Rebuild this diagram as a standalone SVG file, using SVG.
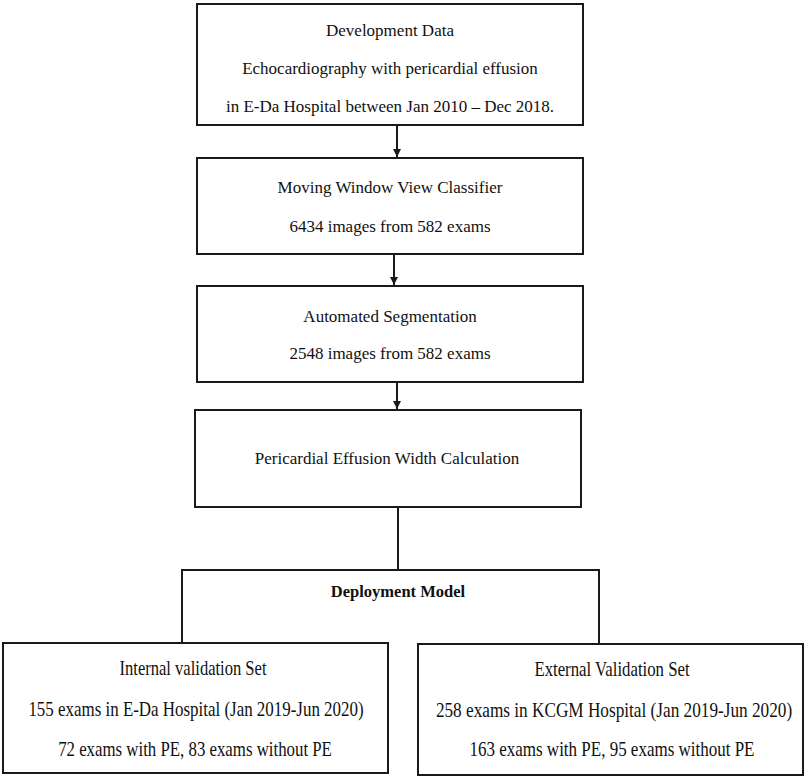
<svg xmlns="http://www.w3.org/2000/svg" width="808" height="778" viewBox="0 0 808 778">
<defs>
<marker id="ah" markerWidth="10" markerHeight="10" refX="8" refY="4" orient="auto" markerUnits="userSpaceOnUse">
<path d="M0,0 L8,4 L0,8 Z" fill="#1a1a1a"/>
</marker>
<style>
.box{fill:#fff;stroke:#1a1a1a;stroke-width:2}
.ln{fill:none;stroke:#1a1a1a;stroke-width:2}
text{font-family:"Liberation Serif","Times New Roman",serif;fill:#111;text-anchor:middle}
.t{font-size:17px}
.b{font-size:16.5px;font-weight:bold}
.s{font-size:21px}
</style>
</defs>
<rect width="808" height="778" fill="#fff"/>
<g id="connectors">
<line class="ln" x1="397" y1="125" x2="397" y2="157" marker-end="url(#ah)"/>
<line class="ln" x1="394" y1="254" x2="394" y2="285" marker-end="url(#ah)"/>
<line class="ln" x1="397" y1="382" x2="397" y2="409" marker-end="url(#ah)"/>
<polyline class="ln" points="398,507 398,570"/>
<polyline class="ln" points="182,643 182,570 599,570 599,644"/>
</g>
<g id="n1">
<rect class="box" x="197" y="4" width="386" height="121"/>
<text class="t" x="390" y="36">Development Data</text>
<text class="t" x="390" y="74">Echocardiography with pericardial effusion</text>
<text class="t" x="390" y="112">in E-Da Hospital between Jan 2010 – Dec 2018.</text>
</g>
<g id="n2">
<rect class="box" x="197" y="158" width="386" height="96"/>
<text class="t" x="390" y="193">Moving Window View Classifier</text>
<text class="t" x="390" y="232">6434 images from 582 exams</text>
</g>
<g id="n3">
<rect class="box" x="197" y="286" width="386" height="96"/>
<text class="t" x="390" y="322">Automated Segmentation</text>
<text class="t" x="390" y="359">2548 images from 582 exams</text>
</g>
<g id="n4">
<rect class="box" x="195" y="410" width="386" height="97"/>
<text class="t" x="387" y="464">Pericardial Effusion Width Calculation</text>
</g>
<g id="deploy">
<text class="b" x="398" y="597">Deployment Model</text>
</g>
<g id="n5">
<rect class="box" x="3" y="643" width="385" height="130"/>
<text class="s" transform="translate(193,675) scale(0.75,1)" x="0" y="0" textLength="196" lengthAdjust="spacingAndGlyphs">Internal validation Set</text>
<text class="s" transform="translate(196,716) scale(0.75,1)" x="0" y="0" textLength="447" lengthAdjust="spacingAndGlyphs">155 exams in E-Da Hospital (Jan 2019-Jun 2020)</text>
<text class="s" transform="translate(195,756) scale(0.75,1)" x="0" y="0" textLength="365" lengthAdjust="spacingAndGlyphs">72 exams with PE, 83 exams without PE</text>
</g>
<g id="n6">
<rect class="box" x="418" y="644" width="385" height="131"/>
<text class="s" transform="translate(612,676) scale(0.75,1)" x="0" y="0" textLength="207" lengthAdjust="spacingAndGlyphs">External Validation Set</text>
<text class="s" transform="translate(614,717) scale(0.75,1)" x="0" y="0" textLength="475" lengthAdjust="spacingAndGlyphs">258 exams in KCGM Hospital (Jan 2019-Jun 2020)</text>
<text class="s" transform="translate(612,756) scale(0.75,1)" x="0" y="0" textLength="380" lengthAdjust="spacingAndGlyphs">163 exams with PE, 95 exams without PE</text>
</g>
</svg>
